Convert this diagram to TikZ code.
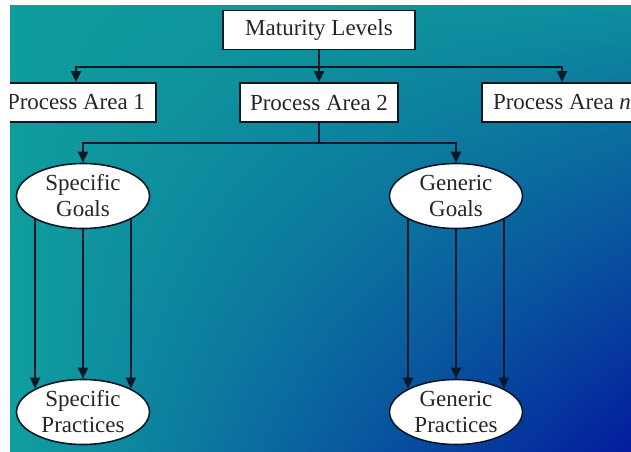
\documentclass[tikz,border=0pt]{standalone}
\usepackage{fontspec}
\setmainfont{Liberation Serif}
\usepackage{tikz}
\usetikzlibrary{arrows.meta,shapes.geometric,shadings}
\definecolor{tealTL}{HTML}{0F9C9C}
\definecolor{tealTR}{HTML}{0E8E9E}
\definecolor{tealBL}{HTML}{10A0A0}
\definecolor{blueBR}{HTML}{031C9E}
\definecolor{wire}{HTML}{0A1828}
\definecolor{ink}{HTML}{262626}
\tikzset{
  lvlbox/.style={draw=wire, line width=0.9pt, fill=white, text=ink, minimum height=19.5pt, inner sep=0pt},
  goal/.style={ellipse, draw=wire, line width=0.8pt, fill=white, text=ink, align=center,
    minimum width=66.5pt, minimum height=32.5pt, inner sep=0pt, font=\fontsize{11.5}{13}\selectfont},
  link/.style={draw=wire, line width=1.1pt},
  arr/.style={link, -{Triangle[length=5.5pt,width=5pt]}}
}

\begin{document}
\begin{tikzpicture}[x=0.5pt, y=-0.5pt, font=\fontsize{11.5}{14}\selectfont]
  \useasboundingbox (0,0) rectangle (631,451);
  \shade[upper left=tealTL, upper right=tealTR, lower left=tealBL, lower right=blueBR]
    (10,5) rectangle (631,451);
  \clip (10,5) rectangle (631,451);

  % Top level and the process areas below it
  \node[lvlbox, minimum width=96pt] (ML) at (319,30) {Maturity Levels};
  \node[lvlbox, minimum width=80pt] (PA1) at (76,102.5) {Process Area 1};
  \node[lvlbox, minimum width=79pt] (PA2) at (319,102.5) {Process Area 2};
  \node[lvlbox, minimum width=80pt] (PAn) at (562,102.5) {Process Area \textit{n}};

  % Goals and practices of one area
  \node[goal] (SG) at (83,196) {Specific\\Goals};
  \node[goal] (GG) at (456,196) {Generic\\Goals};
  \node[goal] (SP) at (83,412) {Specific\\Practices};
  \node[goal] (GP) at (456,412) {Generic\\Practices};

  % Branch lines
  \coordinate (busA) at (319,67);
  \coordinate (busB) at (319,143);

  \draw[link] (ML.south) -- (busA);
  \draw[arr] (busA) -| (PA1.north);
  \draw[arr] (busA) -- (PA2.north);
  \draw[arr] (busA) -| (PAn.north);

  \draw[link] (PA2.south) -- (busB);
  \draw[arr] (busB) -| (SG.north);
  \draw[arr] (busB) -| (GG.north);

  % Three links from goals down to practices
  \draw[arr] (SG.206) -- (SP.154);
  \draw[arr] (SG.south) -- (SP.north);
  \draw[arr] (SG.334) -- (SP.26);

  \draw[arr] (GG.206) -- (GP.154);
  \draw[arr] (GG.south) -- (GP.north);
  \draw[arr] (GG.334) -- (GP.26);
\end{tikzpicture}
\end{document}
